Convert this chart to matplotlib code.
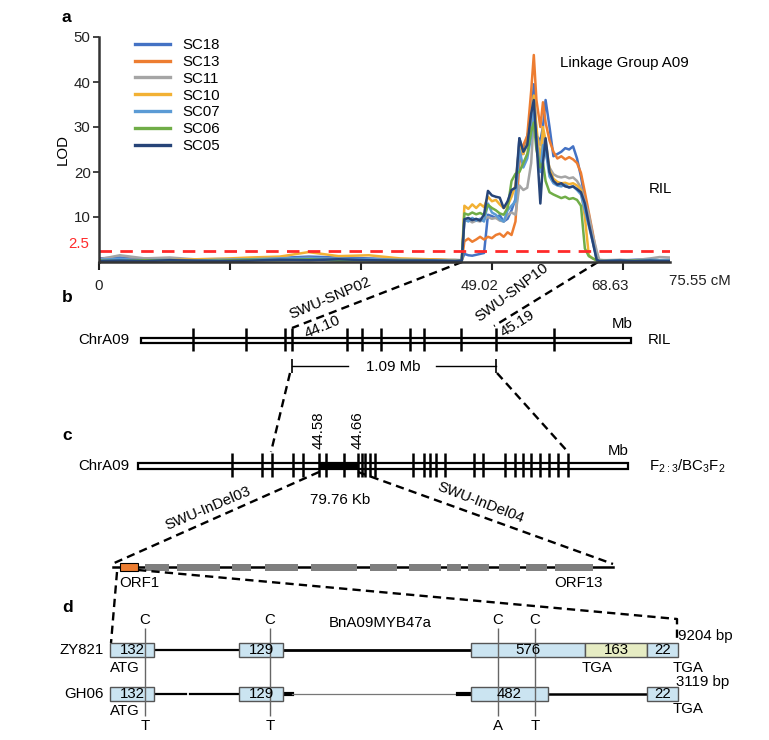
import matplotlib
matplotlib.use("Agg")
import matplotlib.pyplot as plt
import matplotlib.transforms as mtransforms
from matplotlib.patches import Rectangle

plt.rcParams['font.family'] = ['Liberation Sans', 'DejaVu Sans']
plt.rcParams['mathtext.fontset'] = 'custom'
plt.rcParams['mathtext.rm'] = 'Liberation Sans'
FS = 10.8

# ---------------- panel a : LOD profiles ----------------
series = ['SC18', 'SC13', 'SC11', 'SC10', 'SC07', 'SC06', 'SC05']
colors = ['#4472C4', '#ED7D31', '#A5A5A5', '#F2B134', '#5B9BD5', '#70AD47', '#264478']

# map position (tick units: 0, 49.02, 68.63 cM at 0, 30, 40)
base_pos = [0, 1.6, 3.5, 5.4, 7.3, 9.2, 11.5, 13.8, 16.0, 18.3, 20.6, 23.0, 25.3, 27.2, 27.7]
peak_pos = [27.9, 28.2, 28.5, 28.8, 29.1, 29.4, 29.7, 30.0, 30.3, 30.6, 30.9, 31.2,
            31.5, 31.8, 32.1, 32.4, 32.7, 33.0, 33.2, 33.4, 33.7, 33.9, 34.1, 34.4,
            34.7, 35.0, 35.3, 35.6, 35.9, 36.2, 36.5, 36.8, 37.1, 37.4, 37.7, 38.0]
tail_pos = [38.2, 38.6, 39.8, 40.9, 42.1, 42.8, 43.6]
pos = base_pos + peak_pos + tail_pos

lod_sc18 = ([0.8, 1.0, 0.5, 0.6, 0.4, 0.5, 0.7, 0.9, 1.2, 1.0, 0.8, 0.6, 0.5, 0.4, 0.4] +
            [1.8, 1.5, 1.4, 1.6, 1.8, 2.0, 10.5, 10.2, 9.8, 10.4, 9.0, 9.6, 11.5, 14.0, 27.5, 24.0,
             28.0, 31.0, 39.5, 28.0, 27.0, 30.0, 36.0, 30.0, 23.5, 24.0, 24.5, 25.3, 25.0, 25.7,
             23.0, 19.0, 14.0, 9.8, 5.0, 0.8] +
            [0.3, 0.4, 0.3, 0.5, 0.6, 0.4, 0.5])
lod_sc13 = ([0.5, 0.6, 0.8, 0.4, 0.5, 0.6, 0.5, 0.7, 0.9, 0.6, 0.5, 0.4, 0.6, 0.3, 0.3] +
            [4.6, 5.2, 4.5, 5.0, 5.6, 5.0, 5.6, 5.3, 6.0, 6.3, 5.6, 6.6, 6.0, 9.0, 22.0, 26.0,
             28.0, 38.0, 46.0, 36.0, 30.0, 35.5, 31.0, 27.0, 24.5, 23.0, 23.5, 22.8, 23.3, 22.8,
             22.0, 19.8, 15.5, 11.0, 6.5, 1.5] +
            [0.3, 0.3, 0.4, 0.3, 0.4, 0.3, 0.3])
lod_sc11 = ([0.6, 1.5, 0.8, 1.0, 0.6, 0.7, 0.5, 0.8, 0.6, 0.5, 0.4, 0.6, 0.3, 0.5, 0.4] +
            [9.0, 9.4, 8.8, 9.2, 9.0, 9.5, 10.0, 9.6, 9.8, 9.2, 9.0, 10.5, 11.0, 10.5, 17.0, 16.0,
             16.5, 22.0, 32.0, 28.0, 26.0, 28.0, 24.0, 21.0, 19.5, 19.0, 18.8, 19.0, 18.6, 18.8,
             18.0, 16.5, 13.5, 10.5, 6.0, 2.5] +
            [0.5, 0.4, 0.5, 0.4, 0.8, 1.1, 1.0])
lod_sc10 = ([0.3, 0.4, 0.3, 0.5, 0.6, 0.7, 1.0, 1.2, 2.2, 1.3, 1.5, 0.8, 0.6, 0.4, 0.3] +
            [12.5, 11.8, 12.8, 12.0, 12.9, 12.2, 14.5, 13.5, 13.8, 12.8, 12.0, 12.5, 14.5, 17.0,
             26.0, 24.0, 26.5, 32.0, 37.0, 30.0, 22.0, 30.0, 27.0, 20.5, 18.5, 17.8, 17.5, 17.6,
             17.3, 17.5, 17.0, 16.0, 10.0, 1.5, 0.8, 0.5] +
            [0.3, 0.3, 0.2, 0.3, 0.4, 0.3, 0.3])
lod_sc07 = ([0.5, 0.7, 0.4, 0.5, 0.3, 0.5, 0.6, 0.8, 0.9, 0.7, 0.6, 0.5, 0.4, 0.3, 0.3] +
            [9.5, 9.0, 9.8, 9.2, 9.6, 9.0, 13.0, 11.0, 10.5, 9.5, 9.0, 11.5, 12.5, 13.5, 25.0,
             21.0, 23.0, 28.0, 34.0, 27.0, 20.0, 26.0, 25.0, 19.0, 17.5, 17.0, 16.8, 17.2, 16.5,
             16.8, 16.0, 15.0, 11.5, 8.0, 4.5, 0.5] +
            [0.3, 0.3, 0.4, 0.3, 0.5, 0.4, 0.4])
lod_sc06 = ([0.3, 0.2, 0.4, 0.3, 0.2, 0.3, 0.5, 0.4, 0.6, 0.3, 0.4, 0.3, 0.2, 0.2, 0.2] +
            [10.8, 10.5, 11.0, 10.6, 10.9, 10.4, 12.7, 12.0, 11.5, 10.8, 10.5, 12.0, 18.0, 19.6,
             20.0, 22.0, 24.0, 29.0, 31.0, 25.0, 21.0, 22.0, 18.0, 15.5, 15.0, 14.6, 14.2, 14.5,
             14.0, 14.2, 13.8, 12.5, 3.0, 1.3, 0.8, 0.3] +
            [0.2, 0.2, 0.2, 0.3, 0.2, 0.2, 0.2])
lod_sc05 = ([0.2, 0.3, 0.2, 0.4, 0.3, 0.2, 0.3, 0.5, 0.4, 0.6, 0.4, 0.3, 0.3, 0.2, 0.3] +
            [9.5, 9.8, 9.3, 9.6, 9.2, 10.5, 15.8, 14.8, 14.5, 14.3, 12.0, 13.5, 16.0, 16.5, 27.5,
             24.5, 26.0, 33.0, 36.0, 27.0, 13.0, 22.0, 27.5, 20.0, 18.0, 17.2, 17.5, 16.8, 16.6,
             16.8, 16.2, 15.5, 13.0, 8.5, 4.5, 0.5] +
            [0.2, 0.2, 0.3, 0.2, 0.3, 0.2, 0.2])
lods = [lod_sc18, lod_sc13, lod_sc11, lod_sc10, lod_sc07, lod_sc06, lod_sc05]

threshold = 2.5
xtick_pos = [0, 10, 20, 30, 40]
xtick_lab = ['0', '', '', '49.02', '68.63']

# ---------------- diagram data (figure pixel layout) ----------------
ril_marks = [193, 246, 285, 292, 347, 362, 381, 410, 424, 461, 496, 554]
f2_marks = [232, 262, 272, 293, 303, 319, 326, 344, 358, 362, 365, 370, 375, 413, 424, 430,
            436, 445, 474, 483, 505, 515, 523, 531, 540, 549, 558, 568]
orf_start = [120, 145, 177, 232, 265, 311, 370, 409, 447, 468, 499, 526, 555]
orf_end = [138, 169, 220, 251, 298, 357, 397, 441, 461, 489, 520, 547, 593]

exon_rows = ['ZY821', 'ZY821', 'ZY821', 'ZY821', 'ZY821', 'GH06', 'GH06', 'GH06', 'GH06']
exon_x0 = [110, 239, 471, 585, 647, 110, 239, 471, 647]
exon_x1 = [154, 283, 585, 647, 678, 154, 283, 548, 678]
exon_len = ['132', '129', '576', '163', '22', '132', '129', '482', '22']
exon_fill = ['#CBE4F1', '#CBE4F1', '#CBE4F1', '#E6ECC3', '#CBE4F1',
             '#CBE4F1', '#CBE4F1', '#CBE4F1', '#CBE4F1']
snp_x = [145, 270, 498, 535]
snp_ref = ['C', 'C', 'C', 'C']
snp_alt = ['T', 'T', 'A', 'T']

fig = plt.figure(figsize=(7.69, 7.40), dpi=100)
ov = fig.add_axes([0, 0, 1, 1])
ov.set_xlim(0, 769)
ov.set_ylim(740, 0)
ov.axis('off')

ax = fig.add_axes([99 / 769, 1 - 262 / 740, 571 / 769, 225 / 740])
ax.set_facecolor('none')
for name, c, v in zip(series, colors, lods):
    ax.plot(pos, v, color=c, lw=1.8, label=name, solid_joinstyle='round')
ax.axhline(threshold, color='#FF2A2A', lw=2, dashes=(4.5, 3))
ax.set_xlim(0, 43.6)
ax.set_ylim(0, 50)
for s in ['top', 'right']:
    ax.spines[s].set_visible(False)
for s in ['left', 'bottom']:
    ax.spines[s].set_color('#333333')
    ax.spines[s].set_linewidth(1.8)
ax.set_yticks([10, 20, 30, 40, 50])
ax.tick_params(axis='y', length=4, width=1.2, pad=2, labelsize=FS, colors='#222222')
ax.set_xticks(xtick_pos)
ax.set_xticklabels(xtick_lab)
ax.tick_params(axis='x', length=6, width=1.5, pad=6, labelsize=FS, colors='#222222')
shift = mtransforms.ScaledTranslation(-9 / 72, 0, fig.dpi_scale_trans)
for lab in ax.get_xticklabels()[3:]:
    lab.set_transform(lab.get_transform() + shift)
ax.set_ylabel('LOD', fontsize=FS)
ax.yaxis.set_label_coords(-0.052, 0.5)
ax.text(-0.018, threshold, '2.5', color='#FF2A2A', fontsize=FS, ha='right', va='bottom',
        transform=mtransforms.blended_transform_factory(ax.transAxes, ax.transData))
leg = ax.legend(loc='upper left', bbox_to_anchor=(135 / 769, 1 - 38 / 740),
                bbox_transform=fig.transFigure, frameon=False, fontsize=FS,
                handlelength=2.3, handletextpad=0.85, labelspacing=0.19,
                borderpad=0, borderaxespad=0)
for h in leg.get_lines():
    h.set_linewidth(2.4)
ov.text(560, 63, 'Linkage Group A09', fontsize=FS, va='center')
ov.text(649, 189, 'RIL', fontsize=FS, va='center')
ov.text(669, 281, '75.55 cM', fontsize=FS, va='center', color='#222222')

dash = dict(color='black', lw=1.7, dashes=(3.5, 2.2))
bold = dict(fontsize=12.5, fontweight='bold')
ov.text(62, 18, 'a', va='center', **bold)
ov.text(62, 298, 'b', va='center', **bold)
ov.text(62, 435, 'c', va='center', **bold)
ov.text(62, 607, 'd', va='center', **bold)

# ---- panel b ----
ov.plot([462, 292], [262, 328], **dash)
ov.plot([598, 494], [262, 326], **dash)
ov.add_patch(Rectangle((141, 337.5), 490, 5.5, fc='white', ec='black', lw=1.6))
ov.vlines(ril_marks, 328, 351, color='black', lw=1.8)
ov.text(78, 340, 'ChrA09', fontsize=FS, va='center')
ov.text(612, 324, 'Mb', fontsize=FS, va='center')
ov.text(648, 340, 'RIL', fontsize=FS, va='center')
ov.text(330, 298, 'SWU-SNP02', fontsize=FS, rotation=23, ha='center', va='center',
        rotation_mode='anchor')
ov.text(322, 327, '44.10', fontsize=FS, rotation=23, ha='center', va='center',
        rotation_mode='anchor')
ov.text(512, 292, 'SWU-SNP10', fontsize=FS, rotation=37, ha='center', va='center',
        rotation_mode='anchor')
ov.text(518, 324, '45.19', fontsize=FS, rotation=32, ha='center', va='center',
        rotation_mode='anchor')
ov.plot([292, 348], [366, 366], color='black', lw=1)
ov.plot([436, 496], [366, 366], color='black', lw=1)
ov.vlines([292, 496], 359, 373, color='black', lw=1.2)
ov.text(393, 367, '1.09 Mb', fontsize=FS, ha='center', va='center')
ov.plot([290, 271], [373, 452], **dash)
ov.plot([497, 568], [373, 452], **dash)

# ---- panel c ----
ov.add_patch(Rectangle((138, 463), 490, 6, fc='white', ec='black', lw=1.6))
ov.add_patch(Rectangle((319, 462.5), 39, 7, fc='black', ec='black', lw=0))
ov.vlines(f2_marks, 453, 477, color='black', lw=1.8)
ov.text(78, 466, 'ChrA09', fontsize=FS, va='center')
ov.text(608, 451, 'Mb', fontsize=FS, va='center')
ov.text(649, 466, r'F$_{2:3}$/BC$_3$F$_2$', fontsize=FS, va='center')
ov.text(319, 449, '44.58', fontsize=FS, rotation=90, ha='center', va='bottom')
ov.text(358, 449, '44.66', fontsize=FS, rotation=90, ha='center', va='bottom')
ov.text(340, 500, '79.76 Kb', fontsize=FS, ha='center', va='center')
ov.plot([319, 112], [472, 564], **dash)
ov.plot([358, 613], [472, 564], **dash)
ov.text(208, 508, 'SWU-InDel03', fontsize=FS, rotation=23, ha='center', va='center',
        rotation_mode='anchor')
ov.text(481, 503, 'SWU-InDel04', fontsize=FS, rotation=-21, ha='center', va='center',
        rotation_mode='anchor')

# ORF track
ov.plot([113, 613], [567, 567], color='black', lw=1.8, zorder=1)
for i, (s, e) in enumerate(zip(orf_start, orf_end)):
    if i == 0:
        ov.add_patch(Rectangle((s, 563), e - s, 8, fc='#ED7D31', ec='black', lw=0.8, zorder=2))
    else:
        ov.add_patch(Rectangle((s, 563.5), e - s, 7, fc='#7F7F7F', ec='none', zorder=2))
ov.text(119, 583, 'ORF1', fontsize=FS, va='center')
ov.text(554, 583, 'ORF13', fontsize=FS, va='center')

# ---- panel d ----
ov.plot([117, 111], [572, 643], **dash)
ov.plot([138, 677, 677], [570, 619, 643], **dash)
row_y = {'ZY821': 650, 'GH06': 694}
ov.text(104, 650, 'ZY821', fontsize=FS, ha='right', va='center')
ov.text(104, 694, 'GH06', fontsize=FS, ha='right', va='center')
# introns
ov.plot([154, 239], [650, 650], color='black', lw=1.6, zorder=1)
ov.plot([283, 471], [650, 650], color='black', lw=2.0, zorder=1)
ov.plot([154, 186], [694, 694], color='black', lw=1.6, zorder=1)
ov.plot([190, 239], [694, 694], color='black', lw=1.6, zorder=1)
ov.plot([283, 292], [694, 694], color='black', lw=3.0, zorder=1)
ov.plot([292, 458], [694, 694], color='#777777', lw=0.9, zorder=1)
ov.plot([458, 471], [694, 694], color='black', lw=3.0, zorder=1)
ov.plot([548, 647], [694, 694], color='black', lw=1.8, zorder=1)
for row, x0, x1, lab, fc in zip(exon_rows, exon_x0, exon_x1, exon_len, exon_fill):
    y = row_y[row]
    ov.add_patch(Rectangle((x0, y - 7), x1 - x0, 14, fc=fc, ec='#555555', lw=1, zorder=2))
    ov.text((x0 + x1) / 2, y, lab, fontsize=FS, ha='center', va='center', zorder=4)
ov.vlines(snp_x, 628, 716, color='#666666', lw=1, zorder=3)
for x, r, a in zip(snp_x, snp_ref, snp_alt):
    ov.text(x, 620, r, fontsize=FS, ha='center', va='center')
    ov.text(x, 726, a, fontsize=FS, ha='center', va='center')
ov.text(380, 623, 'BnA09MYB47a', fontsize=FS, ha='center', va='center')
ov.text(110, 668, 'ATG', fontsize=FS, va='center')
ov.text(110, 711, 'ATG', fontsize=FS, va='center')
ov.text(582, 668, 'TGA', fontsize=FS, va='center')
ov.text(673, 668, 'TGA', fontsize=FS, va='center')
ov.text(673, 709, 'TGA', fontsize=FS, va='center')
ov.text(678, 636, '9204 bp', fontsize=FS, va='center')
ov.text(676, 682, '3119 bp', fontsize=FS, va='center')

fig.savefig('out.png', dpi=100)
